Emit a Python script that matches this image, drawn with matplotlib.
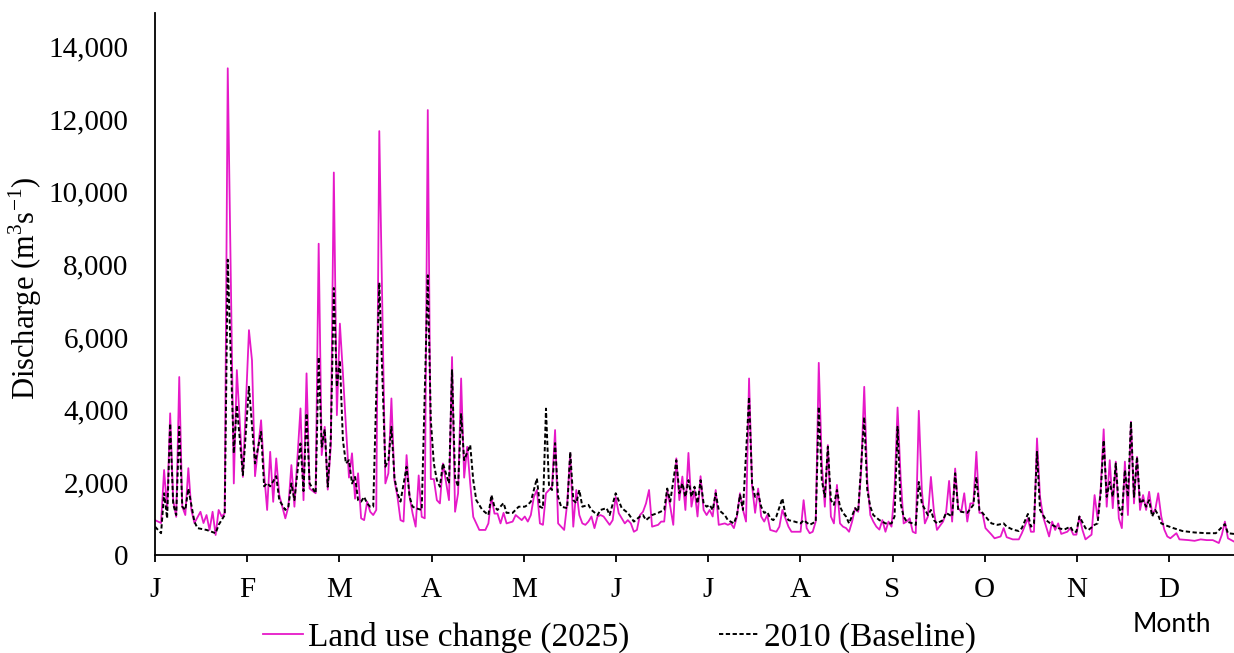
import numpy as np
import matplotlib.pyplot as plt
from matplotlib.ticker import FuncFormatter

plt.rcParams['font.family'] = ['Liberation Serif', 'DejaVu Serif']

# daily discharge (m3/s), day 0 = 1 January
luc_days = [0, 2, 3, 4, 5, 6, 7, 8, 9, 10, 11, 12, 13, 15, 16, 17, 18, 19, 20, 21, 22, 23, 24, 26, 27, 29,
            31, 32, 33, 35, 36, 37, 38, 39, 40, 41, 43, 44, 45, 46, 48, 49, 50, 51, 53, 54, 55, 56, 57, 58,
            59, 60, 61, 62, 63, 64, 65, 66, 67, 68, 69, 70, 71, 72, 73, 74, 76, 77, 78, 79, 80, 81, 82, 83,
            84, 85, 86, 87, 88, 89, 90, 91, 92, 93, 94, 95, 97, 98, 99, 100, 101, 102, 103, 104, 105, 107,
            109, 110, 111, 112, 113, 114, 115, 116, 118, 119, 121, 122, 123, 124, 125, 126, 127, 128, 129,
            130, 131, 132, 133, 135, 136, 137, 138, 139, 140, 141, 142, 143, 144, 145, 146, 147, 148, 150,
            151, 152, 153, 155, 156, 157, 158, 159, 160, 161, 162, 163, 164, 166, 167, 168, 169, 170, 171,
            172, 173, 174, 175, 176, 177, 178, 179, 180, 181, 182, 183, 184, 185, 186, 188, 189, 190, 191,
            192, 193, 194, 195, 196, 197, 198, 199, 200, 201, 202, 203, 205, 206, 207, 208, 209, 210, 213,
            214, 215, 216, 217, 218, 219, 220, 221, 222, 223, 224, 225, 226, 227, 228, 229, 230, 231, 232,
            233, 234, 235, 236, 237, 238, 239, 240, 241, 242, 243, 244, 245, 246, 247, 248, 249, 250, 251,
            252, 253, 254, 255, 256, 257, 258, 260, 261, 262, 263, 264, 265, 266, 267, 268, 269, 270, 271,
            272, 273, 274, 276, 277, 279, 280, 281, 283, 285, 286, 288, 289, 290, 291, 292, 293, 294, 295,
            296, 297, 298, 299, 301, 302, 303, 304, 305, 306, 307, 309, 310, 311, 312, 313, 314, 315, 316,
            317, 318, 319, 320, 321, 322, 323, 324, 325, 326, 327, 328, 329, 330, 331, 332, 333, 334, 335,
            337, 338, 341, 343, 345, 347, 349, 351, 352, 353, 354, 356]
luc_q = [960, 880, 2340, 1240, 3900, 1510, 1050, 4900, 1330, 1100, 2390, 1240, 880, 1190, 880, 1100, 690,
         1190, 550, 1240, 1060, 1150, 13400, 1970, 5090, 2150,
         6190, 5360, 2170, 3710, 2250, 1240, 2840, 1465, 2660, 1650, 1010, 1330, 2475, 1330, 4035, 1510,
         5000, 1830, 1700, 8570, 2750, 3530, 1800, 3000,
         10530, 3850, 6370, 5000, 3530, 2130, 2800, 1550, 2250, 1010, 960, 1470, 1190, 1100, 1240, 11670,
         1970, 2250, 4310, 2060, 1600, 960, 920, 2750,
         1600, 1140, 780, 2190, 1050, 1010, 12250, 2090, 2090, 1510, 1420, 2520, 1510, 5450, 1190, 1700,
         4860, 2130, 2980, 1970, 1050, 690,
         690, 870, 1600, 1140, 1140, 870, 1160, 870, 920, 1100, 960, 1060, 920, 1100, 1600, 1790, 870, 830,
         1700,
         1790, 1880, 3440, 870, 690, 1420, 2800, 780, 1790, 1100, 870, 830, 920, 1060, 740, 1060, 1100,
         1060, 830,
         960, 1600, 1150, 870, 960, 870, 640, 690, 1100, 1190, 1420, 1790, 780, 830, 920, 920, 1790, 1330,
         830,
         2660, 1510, 2160, 1240, 2810, 1330, 1790, 1060, 2170, 1240, 1100, 1240, 1060, 1790, 830, 870, 830,
         870, 740,
         1060, 1700, 1240, 920, 4860, 1900, 1160, 1830, 1060, 920, 1100, 690, 640, 780, 1240, 1010, 780,
         640, 640,
         1510, 740, 600, 640, 920, 5290, 2520, 1330, 3025, 1060, 870, 1930, 870, 780, 740, 640, 920, 1290,
         1190,
         2340, 4630, 2060, 1100, 920, 780, 700, 960, 640, 920, 780, 1790, 4060, 2150, 870, 920, 1010, 640,
         600,
         3970, 1790, 870, 1060, 2150, 1190, 690, 920, 1160, 2040, 920, 2380, 1290, 1190, 1700, 920, 1420,
         1420, 2840,
         1160, 1160, 740, 560, 460, 510, 740, 490, 430, 430, 600, 1010, 640, 640, 3210, 1600, 1060, 780,
         510,
         920, 690, 870, 580, 640, 740, 560, 560, 1060, 690, 430, 560, 1650, 1000, 1790, 3460, 1330, 2610,
         1290,
         2570, 1010, 740, 2570, 1100, 3670, 1420, 2700, 1240, 1650, 1240, 1740, 1140, 1240, 1700, 1060,
         700, 510, 460,
         600, 430, 410, 390, 430, 410, 410, 330, 560, 920, 460, 370]

base_days = [0, 2, 3, 4, 5, 6, 7, 8, 9, 10, 11, 13, 14, 17, 20, 21, 23, 24, 26, 27, 29, 31, 33, 35, 36, 37,
             38, 40, 41, 43, 44, 45, 46, 48, 49, 50, 51, 53, 54, 55, 56, 57, 58, 59, 60, 61, 62, 63, 64, 65,
             66, 67, 68, 69, 70, 71, 72, 74, 76, 77, 78, 79, 80, 81, 83, 84, 85, 86, 88, 90, 91, 92, 93, 94,
             95, 97, 98, 99, 100, 101, 102, 104, 105, 106, 108, 110, 111, 112, 113, 115, 116, 118, 120, 122,
             123, 124, 126, 127, 128, 129, 130, 131, 132, 133, 134, 136, 137, 138, 139, 140, 141, 143, 144,
             146, 147, 149, 150, 152, 154, 156, 158, 160, 161, 162, 164, 166, 168, 169, 170, 172, 173, 174,
             175, 176, 177, 178, 179, 180, 181, 182, 183, 184, 185, 186, 188, 189, 191, 192, 193, 194, 196,
             197, 198, 199, 200, 201, 202, 203, 204, 205, 207, 208, 209, 211, 213, 214, 216, 218, 219, 220,
             221, 222, 223, 224, 225, 226, 227, 228, 229, 231, 232, 234, 235, 236, 237, 239, 240, 241, 243,
             244, 245, 246, 247, 248, 250, 251, 252, 253, 255, 256, 257, 258, 260, 261, 263, 264, 265, 266,
             268, 270, 271, 272, 273, 275, 276, 278, 280, 281, 283, 285, 286, 288, 289, 290, 291, 292, 294,
             296, 298, 300, 302, 303, 304, 305, 307, 308, 310, 311, 312, 313, 314, 315, 316, 317, 318, 319,
             320, 321, 322, 323, 324, 325, 326, 327, 328, 329, 330, 331, 332, 334, 336, 339, 343, 347, 350,
             353, 354, 356]
base_q = [780, 600, 1700, 1010, 3620, 1400, 1100, 3530, 1330, 1240, 1830, 920, 740, 690, 600, 830, 1100,
          8130, 2800, 4125, 2200, 4630, 2520, 3390, 1890, 1980,
          1890, 2170, 1510, 1240, 1330, 1970, 1510, 3070, 1760, 3900, 1970, 1700, 5450, 2980, 3460, 1880,
          3200, 7350, 4630, 5360, 3160, 2520, 2610, 1970,
          2150, 1510, 1470, 1600, 1420, 1330, 1330, 7500, 2430, 2610, 3530, 2130, 1700, 1470, 2430, 1600,
          1330, 1290, 1240, 7700, 3710, 2520, 2060, 1880,
          2520, 1970, 5090, 2130, 1880, 3900, 2610, 3030, 2060, 1510, 1240, 1100, 1650, 1330, 1240, 1430,
          1160, 1160, 1330, 1330,
          1380, 1470, 2110, 1330, 1290, 4030, 1880, 1790, 3080, 1600, 1330, 1290, 2840, 1510, 1430, 1790,
          1330, 1380, 1240,
          1100, 1240, 1290, 1100, 1700, 1290, 1160, 920, 1060, 1100, 960, 1100, 1160, 1240, 1830, 1470,
          2610, 1700, 1970,
          1600, 2060, 1600, 1880, 1420, 2060, 1420, 1330, 1380, 1240, 1700, 1240, 1100, 960, 870, 1100,
          1650, 1240, 4350,
          1970, 1600, 1700, 1330, 1160, 1190, 1010, 960, 1060, 1560, 1100, 960, 920, 870, 960, 830, 920,
          4080, 2060,
          1600, 2980, 1510, 1380, 1790, 1330, 1160, 1060, 870, 1290, 1190, 3800, 1790, 1330, 1100, 960, 920,
          870, 870,
          1060, 3530, 1420, 1060, 920, 870, 830, 2010, 1420, 1100, 1240, 960, 870, 960, 1160, 1060, 2250,
          1240, 1190,
          1160, 1380, 2150, 1240, 1160, 960, 870, 830, 870, 780, 700, 660, 740, 1130, 780, 870, 2840, 1240,
          960,
          830, 740, 700, 780, 640, 640, 1060, 740, 690, 830, 870, 1700, 3160, 1600, 2010, 1600, 2520, 1330,
          1100,
          2340, 1600, 3670, 1600, 2700, 1420, 1510, 1330, 1510, 1060, 1240, 1100, 870, 800, 740, 660, 620,
          600, 600,
          850, 600, 580]

month_labels = ['J', 'F', 'M', 'A', 'M', 'J', 'J', 'A', 'S', 'O', 'N', 'D']
y_ticks = [0, 2000, 4000, 6000, 8000, 10000, 12000, 14000]

W, H = 1234, 653
fig = plt.figure(figsize=(W / 100, H / 100), dpi=100)
ax = fig.add_axes([155 / W, 98 / H, 1 - 155 / W, (555 - 12.7) / H])

ax.plot(luc_days, luc_q, color='#E619C8', lw=1.3, label='Land use change (2025)', zorder=2)
ax.plot(base_days, base_q, color='black', lw=1.4, ls=(0, (2.2, 1.3)), label='2010 (Baseline)', zorder=3)

ax.set_xlim(0, 356)
ax.set_ylim(0, 14930)
ax.set_xticks(np.arange(12) * 365 / 12)
ax.set_xticklabels(month_labels)
ax.set_yticks(y_ticks)
ax.yaxis.set_major_formatter(FuncFormatter(lambda v, p: f'{v:,.0f}'))

for s in ['top', 'right']:
    ax.spines[s].set_visible(False)
for s in ['left', 'bottom']:
    ax.spines[s].set_linewidth(1.3)

ax.tick_params(axis='y', length=0, pad=19, labelsize=21)
ax.tick_params(axis='x', direction='out', length=5, width=1.3, pad=11, labelsize=21)

fig.text(25 / W, (H - 288) / H, 'Discharge (m$^{\\mathregular{3}}$s$^{\\mathregular{-1}}$)',
         rotation=90, ha='center', va='center', fontsize=22)
fig.text(1172 / W, (H - 625) / H, 'Month', family='Lato', fontsize=19, ha='center', va='center')

ax.legend(loc='center left', bbox_to_anchor=(263 / W, 16 / H), bbox_transform=fig.transFigure,
          ncol=2, frameon=False, fontsize=24, handlelength=1.2, handletextpad=0.15,
          columnspacing=2.7, borderpad=0, borderaxespad=0)

fig.savefig('out.png', dpi=100)
